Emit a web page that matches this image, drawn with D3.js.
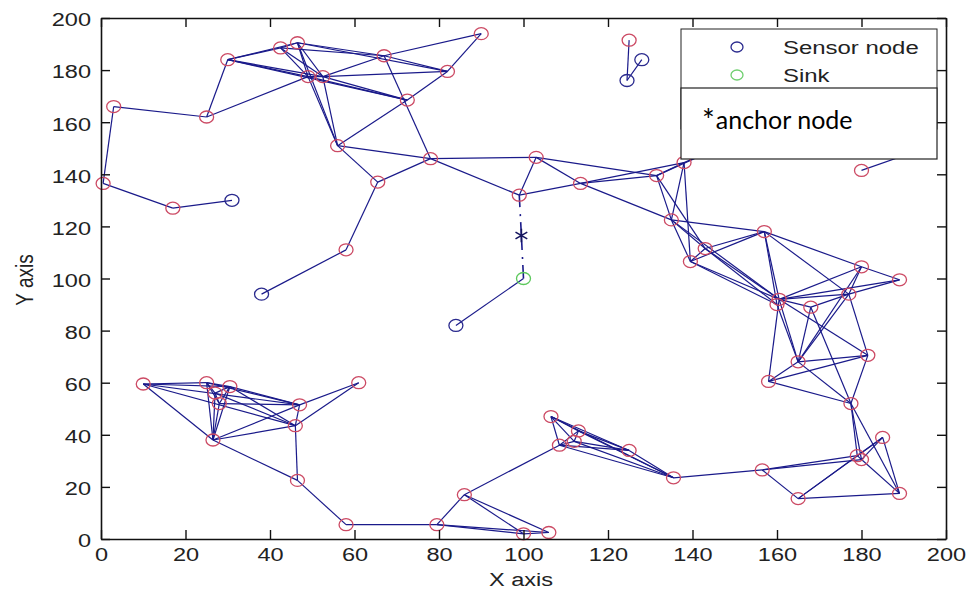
<!DOCTYPE html>
<html>
<head>
<meta charset="utf-8">
<script src="https://cdn.jsdelivr.net/npm/d3@7"></script>
<style>
  body { margin: 0; background: #fff; }
  svg { display: block; }
</style>
</head>
<body>
<script>
var width = 970;
var height = 594;

// network nodes [id, x, y]
var redNodes = [
  ["a1", 0.5, 136.5], ["a2", 3, 166], ["a3", 25, 162], ["a4", 17, 127],
  ["a6", 30, 184], ["a7", 42.5, 188.5], ["a8", 46.5, 190.5], ["a9", 49, 177.5],
  ["a10", 52.5, 177.5], ["a11", 67, 185.5], ["a12", 90, 194], ["a13", 82, 179.5],
  ["a14", 72.5, 168.5], ["a15", 56, 151], ["a16", 78, 146], ["a17", 65.5, 137],
  ["a18", 58, 111], ["a20", 103, 146.5], ["a21", 99, 132], ["a22", 113.5, 136.5],
  ["a23", 131.5, 139.5], ["a24", 138, 144.5], ["a25", 135, 122.5], ["a26", 125, 191.5],
  ["a29", 180, 141.5], ["h1", 195, 150], ["h2", 150, 153],
  ["b1", 157, 118], ["b2", 143, 111.5], ["b3", 139.5, 106.5], ["b4", 180, 104.5],
  ["b5", 189, 99.5], ["b6", 160.5, 92], ["b7", 160, 90], ["b8", 177, 94],
  ["b9", 168, 89], ["b10", 181.5, 70.5], ["b11", 165, 68], ["b12", 158, 60.5],
  ["b13", 177.5, 52], ["b14", 185, 39], ["b15", 179, 32], ["b16", 180, 30.5],
  ["b17", 189, 17.5], ["b18", 165, 15.5], ["b19", 156.5, 26.5], ["b20", 135.5, 23.5],
  ["c1", 106.5, 47], ["c2", 108.5, 36], ["c3", 113, 41.5], ["c4", 112, 37.5],
  ["c5", 125, 34], ["c6", 86, 17], ["c7", 58, 5.5], ["c8", 79.5, 5.5],
  ["c9", 100, 2], ["c10", 106, 2.5],
  ["d1", 10, 59.5], ["d2", 25, 60], ["d3", 30.5, 58.5], ["d4", 27, 56],
  ["d5", 28, 52], ["d6", 26.5, 38], ["d7", 47, 51.5], ["d8", 46, 43.5],
  ["d9", 46.5, 22.5], ["d10", 61, 60]
];

var blueNodes = [
  ["a5", 31, 130], ["a19", 38, 94], ["a27", 124.5, 176], ["a28", 128, 184], ["e1", 84, 82]
];

var sinkNode = ["sink", 100, 100];
var anchorNode = ["anchor", 99.5, 116.5];

var links = [
  ["a1","a2"],["a1","a4"],["a4","a5"],["a2","a3"],["a3","a6"],["a3","a9"],
  ["a6","a7"],["a6","a8"],["a6","a9"],["a6","a10"],["a6","a14"],
  ["a7","a8"],["a7","a9"],["a7","a10"],["a7","a11"],
  ["a8","a9"],["a8","a10"],["a8","a11"],["a8","a13"],["a8","a15"],
  ["a9","a10"],["a9","a14"],["a9","a15"],
  ["a10","a11"],["a10","a13"],["a10","a14"],["a10","a15"],
  ["a11","a12"],["a11","a13"],["a11","a16"],["a12","a13"],["a13","a14"],
  ["a14","a15"],["a15","a16"],["a15","a17"],
  ["a16","a17"],["a16","a20"],["a16","a21"],["a17","a18"],["a18","a19"],
  ["a20","a21"],["a20","a22"],["a20","a23"],["a21","a22"],
  ["a22","a23"],["a22","a25"],["a22","a24"],
  ["a23","a24"],["a23","a25"],["a23","b2"],["a23","h2"],
  ["a24","a25"],["a24","b3"],["a24","h2"],
  ["a25","b1"],["a25","b2"],["a25","b3"],["a25","b6"],
  ["a26","a27"],["a27","a28"],["a29","h1"],
  ["b1","b2"],["b1","b3"],["b1","b6"],["b1","b7"],["b1","b4"],["b1","b8"],
  ["b2","b6"],["b2","b7"],["b3","b6"],["b3","b7"],["b2","b3"],
  ["b4","b5"],["b4","b6"],["b4","b8"],["b4","b11"],
  ["b5","b6"],["b5","b8"],
  ["b6","b8"],["b6","b9"],["b6","b10"],["b6","b11"],["b6","b12"],["b7","b11"],
  ["b8","b9"],["b8","b10"],["b8","b11"],["b9","b11"],["b9","b13"],
  ["b10","b11"],["b10","b12"],["b10","b13"],["b11","b12"],["b11","b13"],["b12","b13"],
  ["b13","b15"],["b13","b16"],["b13","b17"],
  ["b14","b15"],["b14","b16"],["b14","b17"],["b14","b18"],
  ["b15","b16"],["b15","b18"],["b16","b17"],["b15","b19"],["b16","b19"],
  ["b17","b18"],["b18","b19"],["b19","b20"],
  ["b20","c1"],["b20","c2"],["b20","c3"],["b20","c4"],["b20","c5"],
  ["c1","c2"],["c1","c3"],["c1","c4"],["c1","c5"],["c2","c3"],["c2","c4"],
  ["c2","c5"],["c3","c4"],["c3","c5"],["c4","c5"],["c2","c6"],
  ["c6","c8"],["c6","c9"],["c6","c10"],["c7","c8"],["c8","c9"],["c8","c10"],
  ["c9","c10"],["c7","d9"],
  ["d1","d2"],["d1","d3"],["d1","d6"],["d1","d7"],["d1","d8"],
  ["d2","d3"],["d2","d4"],["d2","d5"],["d2","d6"],["d2","d7"],
  ["d3","d4"],["d3","d5"],["d3","d6"],["d3","d7"],["d3","d8"],
  ["d4","d5"],["d4","d6"],["d5","d6"],["d4","d8"],["d5","d7"],
  ["d6","d7"],["d6","d8"],["d6","d9"],["d7","d8"],["d8","d9"],
  ["d7","d10"],["d8","d10"],
  ["sink","e1"]
];

// anchor route: node -> anchor -> sink
var anchorPath = ["a21", "anchor", "sink"];

var xTicks = [0, 20, 40, 60, 80, 100, 120, 140, 160, 180, 200];
var yTicks = [0, 20, 40, 60, 80, 100, 120, 140, 160, 180, 200];

var legendItems = [["Sensor node", "#2a2a8e"], ["Sink", "#6fcf6f"]];

var x = d3.scaleLinear().domain([0, 200]).range([101, 946]);
var y = d3.scaleLinear().domain([0, 200]).range([539, 18]);

var pos = new Map();
redNodes.concat(blueNodes, [sinkNode, anchorNode]).forEach(function(n) {
  pos.set(n[0], [n[1], n[2]]);
});

var svg = d3.select("body").append("svg")
  .attr("width", width)
  .attr("height", height)
  .style("font-family", "'Liberation Sans', Arial, sans-serif");

var lineCol = "#1a1a8a";

// links
svg.append("g")
  .selectAll("line")
  .data(links)
  .enter().append("line")
  .attr("x1", function(d) { return x(pos.get(d[0])[0]); })
  .attr("y1", function(d) { return y(pos.get(d[0])[1]); })
  .attr("x2", function(d) { return x(pos.get(d[1])[0]); })
  .attr("y2", function(d) { return y(pos.get(d[1])[1]); })
  .attr("stroke", lineCol)
  .attr("stroke-width", 1.2);

// dash-dot route through anchor
svg.append("path")
  .attr("d", d3.line()
    .x(function(id) { return x(pos.get(id)[0]); })
    .y(function(id) { return y(pos.get(id)[1]); })(anchorPath))
  .attr("fill", "none")
  .attr("stroke", lineCol)
  .attr("stroke-width", 1.6)
  .attr("stroke-dasharray", "28,7,2,6")
  .attr("stroke-dashoffset", 16);

// nodes
svg.append("g")
  .selectAll("ellipse")
  .data(blueNodes)
  .enter().append("ellipse")
  .attr("cx", function(d) { return x(d[1]); })
  .attr("cy", function(d) { return y(d[2]); })
  .attr("rx", 7).attr("ry", 6)
  .attr("fill", "none")
  .attr("stroke", "#2a2a8e")
  .attr("stroke-width", 1.3);

svg.append("g")
  .selectAll("ellipse")
  .data(redNodes)
  .enter().append("ellipse")
  .attr("cx", function(d) { return x(d[1]); })
  .attr("cy", function(d) { return y(d[2]); })
  .attr("rx", 7).attr("ry", 6)
  .attr("fill", "none")
  .attr("stroke", "#cc4a64")
  .attr("stroke-width", 1.3);

svg.append("ellipse")
  .attr("cx", x(sinkNode[1]))
  .attr("cy", y(sinkNode[2]))
  .attr("rx", 7).attr("ry", 6)
  .attr("fill", "none")
  .attr("stroke", "#5cc85c")
  .attr("stroke-width", 1.3);

svg.append("path")
  .attr("transform", "translate(" + x(anchorNode[1]) + "," + y(anchorNode[2]) + ")")
  .attr("d", d3.symbol(d3.symbolAsterisk, 130)())
  .attr("fill", "none")
  .attr("stroke", "#14145e")
  .attr("stroke-width", 1.6);

// axes (box style, ticks pointing in)
var axisCol = "#111";
function styleAxis(g) {
  g.select(".domain").attr("stroke", axisCol).attr("stroke-width", 1.6);
  g.selectAll(".tick line").attr("stroke", axisCol).attr("stroke-width", 1.4);
  g.selectAll("text")
    .attr("fill", "#222")
    .style("font-family", "'Liberation Sans', Arial, sans-serif")
    .style("font-size", "19px");
}

svg.append("g")
  .attr("transform", "translate(0,539)")
  .call(d3.axisBottom(x).tickValues(xTicks).tickSizeInner(-9).tickSizeOuter(0).tickPadding(9))
  .call(styleAxis)
  .selectAll("text")
  .attr("transform", "scale(1.24,1)");

svg.append("g")
  .attr("transform", "translate(101,0)")
  .call(d3.axisLeft(y).tickValues(yTicks).tickSizeInner(-9).tickSizeOuter(0))
  .call(styleAxis)
  .selectAll("text")
  .attr("x", 0)
  .attr("dy", "0.36em")
  .attr("transform", "translate(-10,1) scale(1.24,1)");

svg.append("g")
  .attr("transform", "translate(0,18)")
  .call(d3.axisTop(x).tickValues(xTicks).tickSizeInner(-9).tickSizeOuter(0).tickFormat(""))
  .call(styleAxis);

svg.append("g")
  .attr("transform", "translate(946,0)")
  .call(d3.axisRight(y).tickValues(yTicks).tickSizeInner(-9).tickSizeOuter(0).tickFormat(""))
  .call(styleAxis);

// axis titles
svg.append("text")
  .attr("transform", "translate(521,586) scale(1.24,1)")
  .attr("text-anchor", "middle")
  .attr("fill", "#222")
  .style("font-size", "19px")
  .text("X axis");

svg.append("text")
  .attr("transform", "translate(33,280) scale(1.24,1) rotate(-90)")
  .attr("text-anchor", "middle")
  .attr("fill", "#222")
  .style("font-size", "19px")
  .text("Y axis");

// legend
var legend = svg.append("g");
legend.append("rect")
  .attr("x", 681).attr("y", 29)
  .attr("width", 256).attr("height", 100)
  .attr("fill", "#fff")
  .attr("stroke", "#222")
  .attr("stroke-width", 1);

legend.selectAll("g.item")
  .data(legendItems)
  .enter().append("g")
  .attr("class", "item")
  .each(function(d, i) {
    var g = d3.select(this);
    var cy = 47 + i * 28;
    g.append("ellipse")
      .attr("cx", 737).attr("cy", cy)
      .attr("rx", 6).attr("ry", 5)
      .attr("fill", "none")
      .attr("stroke", d[1])
      .attr("stroke-width", 1.3);
    g.append("text")
      .attr("transform", "translate(783," + (cy + 6.5) + ") scale(1.26,1)")
      .attr("fill", "#222")
      .style("font-size", "19px")
      .text(d[0]);
  });

// anchor note box
svg.append("rect")
  .attr("x", 681).attr("y", 88)
  .attr("width", 256).attr("height", 71)
  .attr("fill", "#fff")
  .attr("stroke", "#222")
  .attr("stroke-width", 1.2);

var note = svg.append("text")
  .attr("x", 702).attr("y", 129)
  .attr("fill", "#000")
  .style("font-family", "Lato, 'Open Sans', sans-serif")
  .style("font-size", "25px");
note.append("tspan").style("font-size", "30px").attr("dy", 2).text("*");
note.append("tspan").attr("dx", 1).attr("dy", -2).text("anchor node");
</script>
</body>
</html>
